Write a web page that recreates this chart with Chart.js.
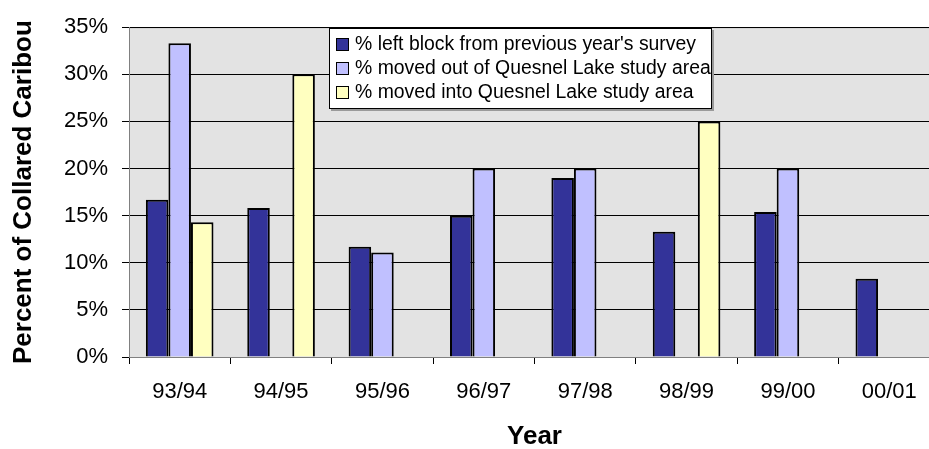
<!DOCTYPE html>
<html>
<head>
<meta charset="utf-8">
<script src="https://cdn.jsdelivr.net/npm/chart.js@4/dist/chart.umd.min.js"></script>
<style>
    html, body { margin: 0; padding: 0; background: #fff; overflow: hidden; }
    #wrap { position: relative; width: 950px; height: 449px; }
    #legend {
        position: absolute; left: 329px; top: 28px; width: 383px; height: 81px;
        background: #fff; border: 1px solid #000; box-shadow: 2px 2px 0 #9a9a9a;
        font-family: "Liberation Sans", Arial, sans-serif; font-size: 19.4px; color: #000;
        box-sizing: border-box; padding-top: 2px;
    }
    .legend-row { height: 24px; line-height: 24px; white-space: nowrap; }
    .legend-box {
        display: inline-block; width: 11px; height: 11px; border: 1px solid #000;
        margin: 0 6px 0 6px; vertical-align: -1px;
    }
</style>
</head>
<body>
<div id="wrap">
    <canvas id="caribouChart" width="950" height="449"></canvas>
    <div id="legend"></div>
</div>
<script>
// ============================================
// COLLARED CARIBOU MOVEMENTS BY SURVEY YEAR
// ============================================

const years = ['93/94', '94/95', '95/96', '96/97', '97/98', '98/99', '99/00', '00/01'];

const leftBlock = [16.7, 15.8, 11.7, 15.0, 19.0, 13.3, 15.4, 8.3];
const movedOut  = [33.3, null, 11.1, 20.0, 20.0, null, 20.0, null];
const movedIn   = [14.3, 30.0, null, null, null, 25.0, null, null];

const seriesLabels = [
    "% left block from previous year's survey",
    '% moved out of Quesnel Lake study area',
    '% moved into Quesnel Lake study area'
];

const yTicks = [0, 5, 10, 15, 20, 25, 30, 35];

const colors = ['#333399', '#c0c0ff', '#ffffc0'];
const FONT = '"Liberation Sans", Arial, sans-serif';

// grey plot background behind the bars
const plotBackground = {
    id: 'plotBackground',
    beforeDraw(chart) {
        const { ctx, chartArea: a } = chart;
        ctx.save();
        ctx.fillStyle = '#e3e3e3';
        ctx.fillRect(a.left, a.top, a.right - a.left, a.bottom - a.top);
        ctx.strokeStyle = '#9a9a9a';
        ctx.lineWidth = 1;
        ctx.beginPath();
        ctx.moveTo(a.left, a.top + 0.5);
        ctx.lineTo(a.right, a.top + 0.5);
        ctx.stroke();
        ctx.restore();
    }
};

const datasets = [leftBlock, movedOut, movedIn].map((data, i) => ({
    label: seriesLabels[i],
    data: data,
    backgroundColor: colors[i],
    borderColor: '#000',
    borderWidth: 2,
    categoryPercentage: 0.667,
    barPercentage: 1.0
}));

const chart = new Chart(document.getElementById('caribouChart'), {
    type: 'bar',
    data: { labels: years, datasets: datasets },
    plugins: [plotBackground],
    options: {
        responsive: false,
        animation: false,
        layout: { padding: { left: 0, top: 17, right: 10, bottom: 0 } },
        plugins: {
            legend: { display: false },
            tooltip: { enabled: false }
        },
        scales: {
            x: {
                grid: {
                    display: true,
                    offset: true,
                    drawOnChartArea: false,
                    drawTicks: true,
                    tickLength: 7,
                    color: '#000'
                },
                border: { display: true, color: '#808080', width: 1 },
                ticks: {
                    color: '#000',
                    padding: 15,
                    font: { family: FONT, size: 22 }
                },
                title: {
                    display: true,
                    text: 'Year',
                    color: '#000',
                    padding: { top: 0, bottom: 0 },
                    font: { family: FONT, size: 26, weight: 'bold', lineHeight: 0.9 }
                },
                afterFit: (s) => { s.height = 92; }
            },
            y: {
                min: 0,
                max: 35,
                afterBuildTicks: (s) => { s.ticks = yTicks.map(v => ({ value: v })); },
                grid: {
                    color: '#000',
                    lineWidth: 1,
                    drawTicks: true,
                    tickLength: 7
                },
                border: { display: true, color: '#808080', width: 1 },
                ticks: {
                    color: '#000',
                    padding: 14,
                    font: { family: FONT, size: 22 },
                    callback: (v) => v + '%'
                },
                title: {
                    display: true,
                    text: 'Percent of Collared Caribou',
                    color: '#000',
                    padding: { top: 8, bottom: 0 },
                    font: { family: FONT, size: 26, weight: 'bold' }
                },
                afterFit: (s) => { s.width = 129; }
            }
        }
    }
});

// Legend
function loadLegend() {
    const container = document.getElementById('legend');
    container.innerHTML = chart.data.datasets.map(ds => `
        <div class="legend-row">
            <span class="legend-box" style="background:${ds.backgroundColor}"></span>${ds.label}
        </div>
    `).join('');
}

loadLegend();
</script>
</body>
</html>
